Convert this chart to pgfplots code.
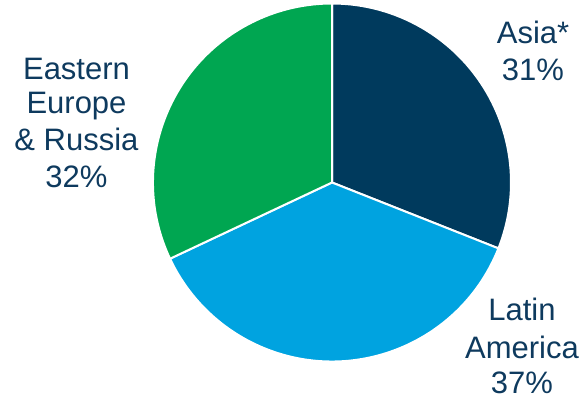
\documentclass[border=0pt]{standalone}
\usepackage{pgfplots}
\usepackage{pgfplotstable}
\pgfplotsset{compat=1.18}
\usepackage{fontspec}
\setmainfont{Liberation Sans}
\definecolor{asia}{HTML}{003A5D}
\definecolor{latam}{HTML}{00A3E0}
\definecolor{eeur}{HTML}{00A651}
\definecolor{txt}{HTML}{0E3A5E}
\pgfplotstableread{
region share
Asia 31
LatinAmerica 37
EasternEurope 32
}\sharetable
\begin{document}
\begin{tikzpicture}
\pgfplotstablegetelem{0}{share}\of\sharetable \let\va\pgfplotsretval
\pgfplotstablegetelem{1}{share}\of\sharetable \let\vb\pgfplotsretval
\pgfplotstablegetelem{2}{share}\of\sharetable \let\vc\pgfplotsretval
\pgfmathsetmacro\aA{90-3.6*\va}
\pgfmathsetmacro\aB{\aA-3.6*\vb}
\pgfmathsetmacro\aC{\aB-3.6*\vc}
\begin{axis}[width=586bp,height=399bp,scale only axis,
  xmin=0,xmax=586,ymin=0,ymax=399,hide axis,clip=false]
\fill[asia,draw=white,line width=2bp] (axis cs:332,216.5) -- ++(90:179bp)
  arc[start angle=90,end angle=\aA,radius=179bp] -- cycle;
\fill[latam,draw=white,line width=2bp] (axis cs:332,216.5) -- ++(\aA:179bp)
  arc[start angle=\aA,end angle=\aB,radius=179bp] -- cycle;
\fill[eeur,draw=white,line width=2bp] (axis cs:332,216.5) -- ++(\aB:179bp)
  arc[start angle=\aB,end angle=\aC,radius=179bp] -- cycle;
\tikzset{lab/.style={anchor=base,inner sep=0pt,text=txt,font=\fontsize{31bp}{36bp}\selectfont}}
\node[lab] at (axis cs:76.5,319) {Eastern};
\node[lab] at (axis cs:76.5,285.5) {Europe};
\node[lab] at (axis cs:76.5,248) {\& Russia};
\node[lab] at (axis cs:76.5,211) {32\%};
\node[lab] at (axis cs:533,355) {Asia*};
\node[lab] at (axis cs:533,318) {31\%};
\node[lab] at (axis cs:522,78) {Latin};
\node[lab] at (axis cs:522,40.5) {America};
\node[lab] at (axis cs:522,6) {37\%};
\end{axis}
\pgfresetboundingbox
\useasboundingbox (0,0) rectangle (586bp,399bp);
\end{tikzpicture}
\end{document}
